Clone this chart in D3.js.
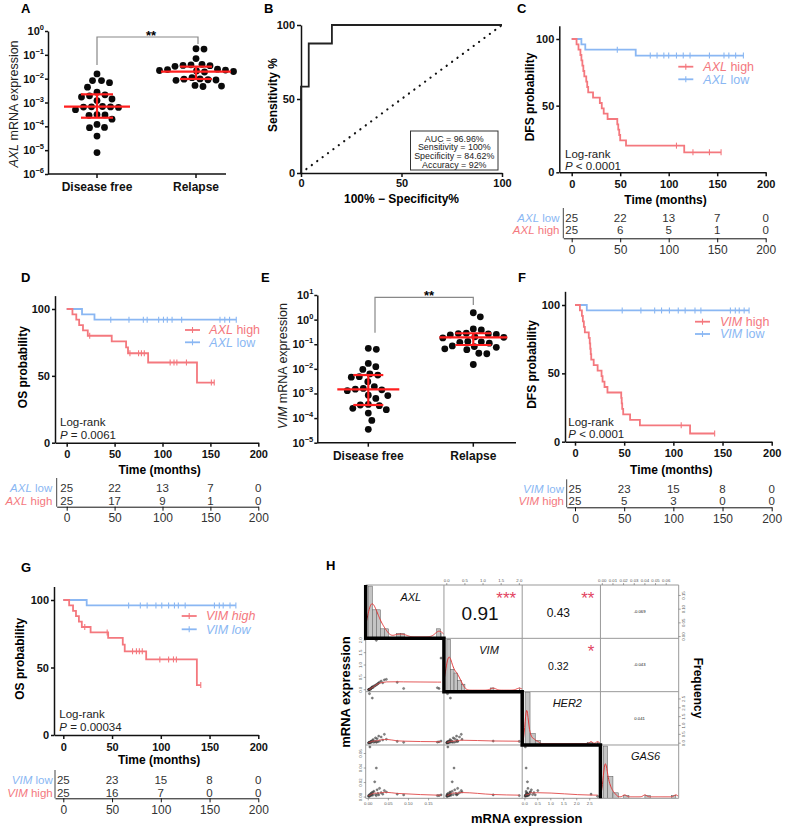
<!DOCTYPE html>
<html><head><meta charset="utf-8">
<script src="https://cdn.jsdelivr.net/npm/d3@7"></script>
<style>body{margin:0;background:#fff}svg{display:block}</style>
</head><body>
<svg id="fig" width="787" height="827"></svg>
<script>
// ================= DATA =================
const groups = ["Disease free", "Relapse"];
// Panel A: AXL mRNA expression
const axlDiseaseFree = [0.0158,0.0083,0.0083,0.0068,0.0044,0.0027,0.0021,0.0019,0.0017,0.0014,0.0012,0.00068,0.00066,0.00064,0.00065,0.00062,0.0005,0.00031,0.0003,0.00029,0.0002,0.00012,0.00009,0.000088,0.000039,0.0000079];
const axlRelapse = [0.18,0.175,0.07,0.04,0.038,0.036,0.035,0.033,0.025,0.024,0.023,0.022,0.021,0.02,0.019,0.011,0.0098,0.0095,0.009,0.0088,0.0085,0.0052,0.0049,0.0047];
const axlMedian = [0.00067, 0.0196];
const axlLower = [0.00023, 0.0097];
const axlUpper = [0.0022, 0.032];
const axlTicks = [1e-6,1e-5,1e-4,1e-3,1e-2,1e-1,1];
// Panel E: VIM mRNA expression
const vimDiseaseFree = [0.068,0.062,0.0166,0.0123,0.0095,0.0062,0.0056,0.0048,0.0046,0.003,0.0019,0.0016,0.0015,0.0014,0.0013,0.00085,0.00082,0.00063,0.00036,0.00034,0.00032,0.00025,0.00022,0.00016,0.00008,0.000035];
const vimRelapse = [1.9,1.3,0.42,0.38,0.28,0.27,0.26,0.25,0.24,0.2,0.19,0.18,0.13,0.125,0.12,0.11,0.085,0.08,0.075,0.065,0.06,0.043,0.041,0.015];
const vimMedian = [0.00148, 0.19];
const vimLower = [0.00034, 0.093];
const vimUpper = [0.0056, 0.28];
const vimTicks = [1e-5,1e-4,1e-3,1e-2,1e-1,1,10];
// Panel B: ROC
const rocFpr = [0, 0, 3.85, 3.85, 15.38, 15.38, 100];
const rocTpr = [0, 58.33, 58.33, 87.5, 87.5, 100, 100];
const rocTicks = [0, 50, 100];
const rocStats = ["AUC = 96.96%", "Sensitivity = 100%", "Specificity = 84.62%", "Accuracy = 92%"];
// Kaplan-Meier panels
const kmTicks = [0, 50, 100, 150, 200];
const kmYTicks = [0, 50, 100];
// C: AXL DFS
const cHighT = [0,5,7,9,10,11,12,13,15,16,17,22,29,31,33,37,47,48,49,50,56,116];
const cHighS = [100,96,92,88,84,80,76,72,68,64,60,56,52,48,44,40,36,32,28,24,20,15];
const cHighEnd = 154;
const cHighCens = [108,125,142,154];
const cLowT = [0,10,14,66];
const cLowS = [100,96,92,87.6];
const cLowEnd = 177;
const cLowCens = [47,81,88,95,100,108,115,122,142,157,162,169,177];
const cRiskLow = [25,22,13,7,0];
const cRiskHigh = [25,6,5,1,0];
// D: AXL OS
const dHighT = [0,6,10,13,17,22,47,62,64,85,136];
const dHighS = [100,96,92,88,84,80,75.8,71.3,66.9,60,45];
const dHighEnd = 154;
const dHighCens = [24,66,75,78,81,108,112,115,125,151,154];
const dLowT = [0,16,29];
const dLowS = [100,96,92];
const dLowEnd = 177;
const dLowCens = [46,65,80,84,96,101,105,110,120,160,165,170,177];
const dRiskLow = [25,22,13,7,0];
const dRiskHigh = [25,17,9,1,0];
// F: VIM DFS
const fHighT = [0,5,7,8,9,10,14,15,15.5,16,16.5,19,23,27,28,30,33,47,47.5,48,49,56,66,117];
const fHighS = [100,96,92,88,84,80,76,72,68,64,60,56,52,48,44,40,36,32,28,24,20,16,12,6];
const fHighEnd = 142;
const fHighCens = [108,142];
const fLowT = [0,12];
const fLowS = [100,96];
const fLowEnd = 177;
const fLowCens = [48,67,81,88,96,105,112,122,128,158,163,167,172,177];
const fRiskLow = [25,23,15,8,0];
const fRiskHigh = [25,5,3,0,0];
// G: VIM OS
const gHighT = [0,6,10,13,16,19,28,46,61,63,85,137];
const gHighS = [100,96,92,88,84,80,76,72,67,62,56,37];
const gHighEnd = 141;
const gHighCens = [22,45,71,75,78,81,99,108,113,116,141];
const gLowT = [0,24];
const gLowS = [100,96];
const gLowEnd = 177;
const gLowCens = [67,79,86,95,101,108,114,118,125,155,160,164,171,177];
const gRiskLow = [25,23,15,8,0];
const gRiskHigh = [25,16,7,0,0];
// Panel H: correlation matrix (per-sample expression)
const hVars = ["AXL", "VIM", "HER2", "GAS6"];
const hAXL = [0.0008,0.0012,0.002,0.003,0.0025,0.004,0.005,0.006,0.007,0.008,0.009,0.010,0.011,0.012,0.014,0.016,0.018,0.020,0.020,0.022,0.024,0.026,0.028,0.032,0.036,0.040,0.045,0.072,0.088,0.172,0.176,0.181];
const hVIM = [0.002,0.004,0.006,0.020,0.010,0.030,0.015,0.050,0.040,0.080,0.100,0.100,0.120,0.090,0.150,0.150,0.180,0.200,2.000,0.220,0.250,0.270,0.300,0.350,0.280,0.400,0.420,0.300,0.050,0.080,0.050,1.280];
const hHER2 = [0.010,0.020,0.050,2.800,0.030,0.020,0.080,0.040,0.100,0.120,0.060,2.550,0.150,0.200,0.050,0.100,0.300,0.050,0.100,0.250,0.080,0.400,0.120,0.350,0.180,0.500,0.220,0.100,0.050,0.060,0.080,0.120];
const hGAS6 = [0.0010,0.0020,0.0015,0.0010,0.0030,0.0690,0.0040,0.0020,0.0050,0.0030,0.0060,0.0040,0.0025,0.0070,0.0080,0.0210,0.0035,0.0400,0.0020,0.0100,0.0050,0.0030,0.0120,0.0060,0.0040,0.0090,0.0070,0.0040,0.0030,0.0020,0.0020,0.0030];
const hCorrRow = [0,0,0,1,1,2];
const hCorrCol = [1,2,3,2,3,3];
const hCorrText = ["0.91","0.43","-0.069","0.32","-0.043","0.041"];
const hCorrStars = ["***","**","","*","",""];
const hTicksAXL = [0,0.05,0.10,0.15];
const hTicksVIM = [0,0.5,1.0,1.5,2.0];
const hTicksHER2 = [0,0.5,1.0,1.5,2.0,2.5];
const hTicksGAS6 = [0,0.01,0.02,0.03,0.04,0.05,0.06];
const hTicksGAS6Left = [0,0.02,0.04,0.06];

// ================= DRAWING =================
const svg = d3.select('#fig');
svg.append('rect').attr('width',787).attr('height',827).attr('fill','#fff');
const F = "'Liberation Sans', Arial, Helvetica, sans-serif";
const BLUE = '#8ab7f3', PINK = '#f4787e', RED = '#ff1f1f';

function rich(g, x, y, parts, o) {
  o = o || {};
  const t = g.append('text').attr('x',x).attr('y',y).attr('font-family',F)
    .attr('font-size',o.size||12).attr('fill',o.fill||'#111')
    .attr('text-anchor',o.anchor||'start').attr('font-weight',o.weight||'normal');
  if (o.rotate) t.attr('transform',`rotate(${o.rotate},${x},${y})`);
  if (o.dy) t.attr('dy',o.dy);
  parts.forEach(p => t.append('tspan').attr('font-style',p[1]?'italic':'normal').text(p[0]));
  return t;
}
function styleAxis(sel, size, weight, sw) {
  sel.attr('font-family',F).attr('font-size',size).attr('font-weight',weight||'bold');
  sel.select('.domain').attr('stroke','#111').attr('stroke-width',sw||1.5);
  sel.selectAll('.tick line').attr('stroke','#111').attr('stroke-width',sw||1.5);
  sel.selectAll('.tick text').attr('fill','#111');
}
function panelLetter(l, x, y) {
  svg.append('text').attr('x',x).attr('y',y).attr('font-family',F).attr('font-size',13)
    .attr('font-weight','bold').text(l);
}

// ---------- dot plot panels (A, E) ----------
function swarm(vals, y, cx, minD) {
  const pts = vals.map(v => ({v, y: y(v)})).sort((a,b)=>a.y-b.y);
  const placed = [];
  for (const p of pts) {
    let bx = cx;
    for (let k = 0; k < 600; k++) {
      const off = (k % 2 ? 1 : -1) * Math.ceil(k/2) * 0.5;
      const xx = cx + off;
      if (placed.every(q => (q.x-xx)*(q.x-xx) + (q.y-p.y)*(q.y-p.y) >= minD*minD)) { bx = xx; break; }
    }
    p.x = bx; placed.push(p);
  }
  return placed;
}
function dotPanel(c) {
  const g = svg.append('g');
  const y = d3.scaleLog().domain(c.dom).range(c.yr);
  const x = d3.scaleOrdinal().domain(groups).range(c.cx);
  const yAx = g.append('g').attr('transform',`translate(${c.ax},0)`)
    .call(d3.axisLeft(y).tickValues(c.ticks).tickSize(3).tickSizeOuter(0).tickFormat(''));
  styleAxis(yAx, 11);
  c.ticks.forEach(v => {
    const e = Math.round(Math.log10(v));
    const t = g.append('text').attr('x',c.ax-4).attr('y',y(v)+4).attr('text-anchor','end')
      .attr('font-family',F).attr('font-weight','bold').attr('font-size',11).attr('fill','#111');
    t.append('tspan').text('10');
    t.append('tspan').attr('dy',-5).attr('font-size',7.5).text(e<0 ? '\u2212'+(-e) : String(e));
  });
  g.append('line').attr('x1',c.ax).attr('x2',c.xEnd).attr('y1',c.yr[0]).attr('y2',c.yr[0])
    .attr('stroke','#111').attr('stroke-width',1.5);
  groups.forEach(gr => {
    g.append('line').attr('x1',x(gr)).attr('x2',x(gr)).attr('y1',c.yr[0]).attr('y2',c.yr[0]+4)
      .attr('stroke','#111').attr('stroke-width',1.5);
    g.append('text').attr('x',x(gr)).attr('y',c.yr[0]+17).attr('text-anchor','middle')
      .attr('font-family',F).attr('font-weight','bold').attr('font-size',12).attr('fill','#111').text(gr);
  });
  rich(g, c.ylx, c.yly, [[c.gene,true],[' mRNA expression',false]], {size:12.5, anchor:'middle', rotate:-90, dy:'0.35em', fill:'#222'});
  const b = c.br;
  g.append('path').attr('d',`M${b.x1},${b.l1}V${b.y}H${b.x2}V${b.l2}`).attr('fill','none')
    .attr('stroke','#888').attr('stroke-width',1.2);
  g.append('text').attr('x',b.sx).attr('y',b.sy).attr('text-anchor','middle').attr('font-family',F)
    .attr('font-weight','bold').attr('font-size',13).text('**');
  [c.d0, c.d1].forEach((vals, i) => {
    swarm(vals, y, x(groups[i]), 8).forEach(p => {
      g.append('circle').attr('cx',p.x).attr('cy',p.y).attr('r',3.4).attr('fill','#0a0a0a');
    });
  });
  groups.forEach((gr, i) => {
    const cx = x(gr);
    g.append('line').attr('x1',cx).attr('x2',cx).attr('y1',y(c.lo[i])).attr('y2',y(c.hi[i]))
      .attr('stroke',RED).attr('stroke-width',2.2);
    [[c.med[i], c.mw[i]], [c.lo[i], c.cw[i]], [c.hi[i], c.cw[i]]].forEach(([v, w]) => {
      g.append('line').attr('x1',cx-w).attr('x2',cx+w).attr('y1',y(v)).attr('y2',y(v))
        .attr('stroke',RED).attr('stroke-width',2.2);
    });
  });
}
panelLetter('A', 21, 12.5);
dotPanel({dom:[1e-6,1], yr:[174,31], ax:48, xEnd:226, cx:[97,196], ticks:axlTicks,
  d0:axlDiseaseFree, d1:axlRelapse, med:axlMedian, lo:axlLower, hi:axlUpper,
  mw:[33,35], cw:[16,16], gene:'AXL', ylx:14, yly:104,
  br:{x1:97, x2:198, y:37, l1:65, l2:44, sx:151, sy:40}});
panelLetter('E', 261, 282);
dotPanel({dom:[1e-5,10], yr:[442.7,295], ax:317.3, xEnd:516, cx:[368.3,473.3], ticks:vimTicks,
  d0:vimDiseaseFree, d1:vimRelapse, med:vimMedian, lo:vimLower, hi:vimUpper,
  mw:[31,34], cw:[15,18], gene:'VIM', ylx:283, yly:366,
  br:{x1:375, x2:473.3, y:297.3, l1:332.7, l2:305, sx:429, sy:300}});

// ---------- Panel B: ROC ----------
(function(){
  panelLetter('B', 264, 12.5);
  const g = svg.append('g');
  const x = d3.scaleLinear().domain([0,100]).range([301,502]);
  const y = d3.scaleLinear().domain([0,100]).range([173,25]);
  const ya = g.append('g').attr('transform','translate(301,0)')
    .call(d3.axisLeft(y).tickValues(rocTicks).tickSize(4).tickSizeOuter(0).tickPadding(2));
  styleAxis(ya, 11);
  const xa = g.append('g').attr('transform','translate(0,173)')
    .call(d3.axisBottom(x).tickValues(rocTicks).tickSize(4).tickSizeOuter(0).tickPadding(2));
  styleAxis(xa, 11);
  g.append('line').attr('x1',x(0)).attr('y1',y(0)).attr('x2',x(100)).attr('y2',y(100))
    .attr('stroke','#111').attr('stroke-width',2.2).attr('stroke-linecap','round')
    .attr('stroke-dasharray','0.1,6.6');
  const pts = rocFpr.map((f,i)=>[f, rocTpr[i]]);
  g.append('path').attr('d', d3.line().x(d=>x(d[0])).y(d=>y(d[1]))(pts)).attr('fill','none')
    .attr('stroke','#222').attr('stroke-width',1.8);
  g.append('rect').attr('x',410.5).attr('y',131).attr('width',87.5).attr('height',39)
    .attr('fill','#fff').attr('stroke','#333').attr('stroke-width',1);
  rocStats.forEach((s,i) => {
    g.append('text').attr('x',454.3).attr('y',141.5 + i*8.9).attr('text-anchor','middle')
      .attr('font-family',F).attr('font-size',8.9).attr('fill','#222').text(s);
  });
  g.append('text').attr('x',273).attr('y',95).attr('dy','0.35em').attr('transform','rotate(-90,273,95)')
    .attr('text-anchor','middle').attr('font-family',F).attr('font-weight','bold').attr('font-size',12).text('Sensitivity %');
  g.append('text').attr('x',401.5).attr('y',203).attr('text-anchor','middle').attr('font-family',F)
    .attr('font-weight','bold').attr('font-size',12).text('100% \u2212 Specificity%');
})();

// ---------- Kaplan-Meier panels ----------
function survAt(t, T, S) {
  let s = S[0];
  for (let i = 0; i < T.length; i++) if (T[i] <= t) s = S[i];
  return s;
}
function kmPanel(c) {
  const g = svg.append('g');
  const x = d3.scaleLinear().domain([0,200]).range(c.xr);
  const y = d3.scaleLinear().domain([0,100]).range(c.yr);
  const xa = d3.scaleLinear().domain([x.invert(c.ax),200]).range([c.ax, x(200)]);
  const ya = d3.scaleLinear().domain([0,110]).range([y(0), y(110)]);
  const yAx = g.append('g').attr('transform',`translate(${c.ax},0)`)
    .call(d3.axisLeft(ya).tickValues(kmYTicks).tickSize(3).tickSizeOuter(0).tickPadding(2));
  styleAxis(yAx, 11);
  const xAx = g.append('g').attr('transform',`translate(0,${y(0)})`)
    .call(d3.axisBottom(xa).tickValues(kmTicks).tickSize(4).tickSizeOuter(0).tickPadding(4));
  styleAxis(xAx, 11);
  g.append('text').attr('x',c.ylx).attr('y',(y(0)+y(110))/2 - 2).attr('dy','0.35em')
    .attr('transform',`rotate(-90,${c.ylx},${(y(0)+y(110))/2 - 2})`).attr('text-anchor','middle')
    .attr('font-family',F).attr('font-weight','bold').attr('font-size',12).text(c.ytitle);
  g.append('text').attr('x',(c.ax + x(200))/2 + 3).attr('y',c.xty).attr('text-anchor','middle')
    .attr('font-family',F).attr('font-weight','bold').attr('font-size',12).text('Time (months)');
  const line = d3.line().x(d=>x(d[0])).y(d=>y(d[1])).curve(d3.curveStepAfter);
  c.curves.forEach(cv => {
    const pts = cv.T.map((t,i)=>[t, cv.S[i]]);
    pts.push([cv.end, cv.S[cv.S.length-1]]);
    g.append('path').attr('d', line(pts)).attr('fill','none').attr('stroke',cv.color).attr('stroke-width',1.8);
    cv.cens.forEach(t => {
      const yy = y(survAt(t, cv.T, cv.S));
      g.append('line').attr('x1',x(t)).attr('x2',x(t)).attr('y1',yy-3).attr('y2',yy+3)
        .attr('stroke',cv.color).attr('stroke-width',1.1);
    });
  });
  c.legend.forEach((L, i) => {
    const ly = c.lgy[i];
    g.append('line').attr('x1',c.lgx[0]).attr('x2',c.lgx[1]).attr('y1',ly).attr('y2',ly)
      .attr('stroke',L.color).attr('stroke-width',1.8);
    const mx = (c.lgx[0]+c.lgx[1])/2;
    g.append('line').attr('x1',mx).attr('x2',mx).attr('y1',ly-3).attr('y2',ly+3)
      .attr('stroke',L.color).attr('stroke-width',1.1);
    rich(g, c.lgx[2], ly + 4.4, L.parts, {size:12.5, fill:L.color});
  });
  rich(g, c.lr[0], c.lr[1] + 4, [['Log-rank',false]], {size:11.5, fill:'#222'});
  rich(g, c.lr[0], c.lr[2] + 4, [['P',true],[' ' + c.p,false]], {size:11.5, fill:'#222'});
  g.append('line').attr('x1',c.tab.vx).attr('x2',c.tab.vx).attr('y1',c.tab.r[0]-10).attr('y2',c.tab.ay)
    .attr('stroke','#444').attr('stroke-width',1);
  const ta = d3.scaleLinear().domain([x.invert(c.tab.vx),200]).range([c.tab.vx, x(200)]);
  const tAx = g.append('g').attr('transform',`translate(0,${c.tab.ay})`)
    .call(d3.axisBottom(ta).tickValues(kmTicks).tickSize(4).tickSizeOuter(0).tickPadding(3));
  styleAxis(tAx, 12, 'normal', 1);
  tAx.selectAll('.tick text').attr('fill','#333');
  c.tab.rows.forEach((row, i) => {
    const ry = c.tab.r[i] + 4;
    rich(g, c.tab.lx, ry, row.parts, {size:11.5, fill:row.color, anchor:'end'});
    row.vals.forEach((v, j) => {
      g.append('text').attr('x',x(kmTicks[j])).attr('y',ry).attr('text-anchor','middle')
        .attr('font-family',F).attr('font-size',11.5).attr('fill','#333').text(v);
    });
  });
}
panelLetter('C', 517, 12.5);
kmPanel({ax:559.3, xr:[571.7,765.7], yr:[172.3,39], ylx:530, ytitle:'DFS probability', xty:204,
  curves:[{T:cLowT,S:cLowS,end:cLowEnd,cens:cLowCens,color:BLUE},{T:cHighT,S:cHighS,end:cHighEnd,cens:cHighCens,color:PINK}],
  legend:[{color:PINK, parts:[['AXL',true],[' high',false]]},{color:BLUE, parts:[['AXL',true],[' low',false]]}],
  lgx:[678.3,693.3,703.3], lgy:[66.7,79.3], lr:[565,154,165.5], p:'< 0.0001',
  tab:{vx:563.3, ay:238.3, lx:559.5, r:[218,230], rows:[
    {color:BLUE, parts:[['AXL',true],[' low',false]], vals:cRiskLow},
    {color:PINK, parts:[['AXL',true],[' high',false]], vals:cRiskHigh}]}});
panelLetter('D', 21, 282);
kmPanel({ax:55, xr:[66.7,258.3], yr:[442.7,309], ylx:23, ytitle:'OS probability', xty:474,
  curves:[{T:dLowT,S:dLowS,end:dLowEnd,cens:dLowCens,color:BLUE},{T:dHighT,S:dHighS,end:dHighEnd,cens:dHighCens,color:PINK}],
  legend:[{color:PINK, parts:[['AXL',true],[' high',false]]},{color:BLUE, parts:[['AXL',true],[' low',false]]}],
  lgx:[185,200,209.3], lgy:[330,342.3], lr:[60,421.7,435], p:'= 0.0061',
  tab:{vx:56.7, ay:506.7, lx:52.3, r:[488,500.7], rows:[
    {color:BLUE, parts:[['AXL',true],[' low',false]], vals:dRiskLow},
    {color:PINK, parts:[['AXL',true],[' high',false]], vals:dRiskHigh}]}});
panelLetter('F', 518, 282);
kmPanel({ax:565, xr:[575,771.7], yr:[441.7,305], ylx:531.5, ytitle:'DFS probability', xty:474,
  curves:[{T:fLowT,S:fLowS,end:fLowEnd,cens:fLowCens,color:BLUE},{T:fHighT,S:fHighS,end:fHighEnd,cens:fHighCens,color:PINK}],
  legend:[{color:PINK, parts:[['VIM',true],[' high',false]]},{color:BLUE, parts:[['VIM',true],[' low',false]]}],
  lgx:[695,710,720], lgy:[321.7,334], lr:[568.3,421.7,434], p:'< 0.0001',
  tab:{vx:566.7, ay:507.3, lx:564, r:[489.3,500.7], rows:[
    {color:BLUE, parts:[['VIM',true],[' low',false]], vals:fRiskLow},
    {color:PINK, parts:[['VIM',true],[' high',false]], vals:fRiskHigh}]}});
panelLetter('G', 21, 572);
kmPanel({ax:54, xr:[63.3,258.3], yr:[735,600], ylx:20, ytitle:'OS probability', xty:764,
  curves:[{T:gLowT,S:gLowS,end:gLowEnd,cens:gLowCens,color:BLUE},{T:gHighT,S:gHighS,end:gHighEnd,cens:gHighCens,color:PINK}],
  legend:[{color:PINK, parts:[['VIM high',true]]},{color:BLUE, parts:[['VIM low',true]]}],
  lgx:[181.7,196.7,206], lgy:[616,629.3], lr:[59.3,714,727.3], p:'= 0.00034',
  tab:{vx:55, ay:798.3, lx:52.7, r:[780,793.3], rows:[
    {color:BLUE, parts:[['VIM',true],[' low',false]], vals:gRiskLow},
    {color:PINK, parts:[['VIM',true],[' high',false]], vals:gRiskHigh}]}});

// ---------- Panel H: scatter-matrix ----------
// robust local-constant smoother (tricube neighbourhood, iterative reweighting)
function robustSmooth(xv, yv, f, iter) {
  const n = xv.length;
  const idx = d3.range(n).sort((a,b)=>xv[a]-xv[b]);
  const x = idx.map(i=>xv[i]), y = idx.map(i=>yv[i]);
  const r = Math.max(3, Math.ceil(f*n));
  let rw = new Array(n).fill(1);
  const ys = new Array(n);
  for (let it = 0; it <= iter; it++) {
    for (let i = 0; i < n; i++) {
      const dists = x.map(v=>Math.abs(v-x[i]));
      const h = Math.max(dists.slice().sort((a,b)=>a-b)[r-1], 1e-12) * 1.0001;
      let sw=0, swy=0;
      for (let j = 0; j < n; j++) {
        const u = dists[j]/h; if (u >= 1) continue;
        const w = Math.pow(1-u*u*u,3)*rw[j];
        sw+=w; swy+=w*y[j];
      }
      ys[i] = sw > 0 ? swy/sw : y[i];
    }
    if (it === iter) break;
    const res = y.map((v,i)=>v-ys[i]);
    const m = d3.median(res.map(Math.abs));
    if (!(m > 0)) break;
    rw = res.map(e=>{ const u = e/(6*m); return Math.abs(u) < 1 ? (1-u*u)*(1-u*u) : 0; });
  }
  return x.map((v,i)=>[v, ys[i]]);
}
(function(){
  panelLetter('H', 326, 570);
  const g = svg.append('g');
  const data = [hAXL, hVIM, hHER2, hGAS6];
  const fmts = ['.2f','.1f','.1f','.2f'];
  const L = 365.7, T = 585, W = 78.25, H = 53.33;
  const n = 4;
  const doms = data.map(d => { const [a,b] = d3.extent(d); const e = (b-a)*0.04; return [a-e, b+e]; });
  const xs = doms.map((d,j) => d3.scaleLinear().domain(d).range([L+j*W, L+(j+1)*W]));
  const ys = doms.map((d,i) => d3.scaleLinear().domain(d).range([T+(i+1)*H, T+i*H]));
  const defs = svg.append('defs');
  for (let i=0;i<n;i++) for (let j=0;j<n;j++) {
    defs.append('clipPath').attr('id',`cl${i}${j}`).append('rect')
      .attr('x',L+j*W).attr('y',T+i*H).attr('width',W).attr('height',H);
  }
  function bw(arr){ const s = d3.deviation(arr); const srt = arr.slice().sort(d3.ascending); const q = (d3.quantile(srt,0.75)-d3.quantile(srt,0.25))/1.34; return 0.9*Math.min(s, q>0?q:s)*Math.pow(arr.length,-0.2); }
  for (let i=0;i<n;i++) for (let j=0;j<n;j++) {
    const cg = g.append('g').attr('clip-path',`url(#cl${i}${j})`);
    if (i === j) {
      const d = data[i];
      const x = xs[i];
      const bins = d3.bin().domain(d3.extent(d)).thresholds(x.ticks(20))(d);
      const mx = d3.max(bins, b=>b.length);
      const bot = T+(i+1)*H;
      bins.forEach(b => {
        if (!b.length) return;
        const hgt = b.length/mx*H*0.98;
        cg.append('rect').attr('x',x(b.x0)).attr('y',bot-hgt).attr('width',Math.max(0.5,x(b.x1)-x(b.x0)))
          .attr('height',hgt).attr('fill','#c4c4c4').attr('stroke','#555').attr('stroke-width',0.5);
      });
      const h = bw(d);
      const grid = d3.range(0,161).map(k => doms[i][0] + (doms[i][1]-doms[i][0])*k/160);
      const dens = grid.map(v => [v, d3.mean(d, u => Math.exp(-0.5*((v-u)/h)**2))]);
      const md = d3.max(dens, p=>p[1]);
      cg.append('path').attr('d', d3.line().x(p=>x(p[0])).y(p=>bot - 1.5 - p[1]/md*H*0.62)(dens))
        .attr('fill','none').attr('stroke','#e03a3a').attr('stroke-width',1);
    } else if (i > j) {
      const xd = data[j], yd = data[i];
      xd.forEach((v,k) => {
        cg.append('circle').attr('cx',xs[j](v)).attr('cy',ys[i](yd[k])).attr('r',1.1)
          .attr('fill','#555').attr('fill-opacity',0.7).attr('stroke','#222').attr('stroke-width',0.3);
      });
      const sm = robustSmooth(xd, yd, 0.35, 3);
      cg.append('path').attr('d', d3.line().x(p=>xs[j](p[0])).y(p=>ys[i](p[1])).curve(d3.curveMonotoneX)(sm))
        .attr('fill','none').attr('stroke','#e04848').attr('stroke-width',0.9);
    }
  }
  hVars.forEach((v,i) => {
    g.append('text').attr('x',L+i*W+W/2+6).attr('y',T+i*H+15.5).attr('text-anchor','middle')
      .attr('font-family',F).attr('font-style','italic').attr('font-size',11).attr('fill','#111').text(v);
  });
  hCorrText.forEach((s,k) => {
    const i = hCorrRow[k], j = hCorrCol[k];
    const v = Math.abs(+s);
    const fs = v > 0.8 ? 19 : v > 0.4 ? 12 : v > 0.2 ? 10.5 : 4.2;
    const cx = L+j*W+W/2, cy = T+i*H+H/2;
    g.append('text').attr('x',cx+(fs>5?-3:0)).attr('y',cy+fs*0.35+(fs>5?1.5:0)).attr('text-anchor','middle')
      .attr('font-family',F).attr('font-size',fs).attr('fill','#111').text(s);
    if (hCorrStars[k]) {
      g.append('text').attr('x',L+(j+1)*W-6).attr('y',T+i*H+19).attr('text-anchor','end')
        .attr('font-family',F).attr('font-size',17).attr('fill','#e2445f').text(hCorrStars[k]);
    }
  });
  for (let k=0;k<=n;k++) {
    g.append('line').attr('x1',L+k*W).attr('x2',L+k*W).attr('y1',T).attr('y2',T+n*H).attr('stroke','#999').attr('stroke-width',1);
    g.append('line').attr('x1',L).attr('x2',L+n*W).attr('y1',T+k*H).attr('y2',T+k*H).attr('stroke','#999').attr('stroke-width',1);
  }
  let p = `M${L},${T}`;
  for (let k=0;k<n;k++) { p += `V${T+(k+1)*H}`; if (k<n-1) p += `H${L+(k+1)*W}`; }
  g.append('path').attr('d',p).attr('fill','none').attr('stroke','#000').attr('stroke-width',3.5);
  function tickSet(side, idx, tv) {
    const f = d3.format(fmts[idx]);
    tv.forEach(v => {
      let x1,y1,x2,y2,tx,ty,rot=0;
      if (side==='top'){ x1=x2=xs[idx](v); y1=T; y2=T-2; tx=x1; ty=T-3.5; }
      if (side==='bottom'){ x1=x2=xs[idx](v); y1=T+n*H; y2=y1+2; tx=x1; ty=y1+6.5; }
      if (side==='left'){ y1=y2=ys[idx](v); x1=L; x2=L-2; tx=L-3.5; ty=y1; rot=-90; }
      if (side==='right'){ y1=y2=ys[idx](v); x1=L+n*W; x2=x1+2; tx=x1+3.5; ty=y1; rot=-90; }
      g.append('line').attr('x1',x1).attr('x2',x2).attr('y1',y1).attr('y2',y2).attr('stroke','#666').attr('stroke-width',0.6);
      const t = g.append('text').attr('x',tx).attr('y',ty).attr('text-anchor','middle')
        .attr('font-family',F).attr('font-size',4.3).attr('fill','#555').text(f(v));
      if (rot) t.attr('transform',`rotate(${rot},${tx},${ty})`).attr('dy', side==='left'?'0':'0.75em');
    });
  }
  tickSet('top',1,hTicksVIM); tickSet('top',3,hTicksGAS6);
  tickSet('bottom',0,hTicksAXL); tickSet('bottom',2,hTicksHER2);
  tickSet('left',1,hTicksVIM); tickSet('left',3,hTicksGAS6Left);
  tickSet('right',0,hTicksAXL); tickSet('right',2,hTicksHER2);
  g.append('text').attr('x',345).attr('y',692).attr('dy','0.35em').attr('transform','rotate(-90,345,692)')
    .attr('text-anchor','middle').attr('font-family',F).attr('font-weight','bold').attr('font-size',13).text('mRNA expression');
  g.append('text').attr('x',526.7).attr('y',822.5).attr('text-anchor','middle').attr('font-family',F)
    .attr('font-weight','bold').attr('font-size',13).text('mRNA expression');
  g.append('text').attr('x',698.3).attr('y',688).attr('dy','0.35em').attr('transform','rotate(90,698.3,688)')
    .attr('text-anchor','middle').attr('font-family',F).attr('font-weight','bold').attr('font-size',12).text('Frequency');
})();
</script>
</body></html>
